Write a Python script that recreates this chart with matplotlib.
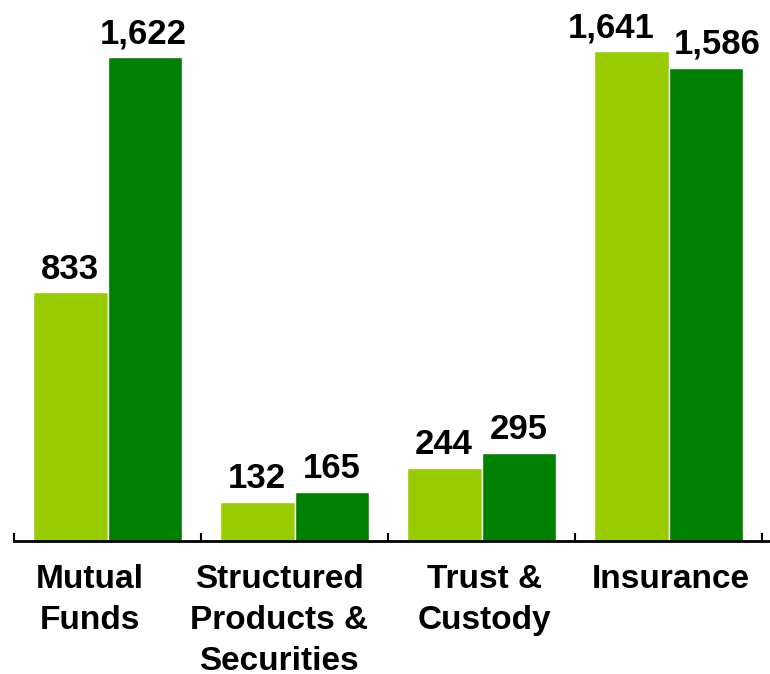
import matplotlib
matplotlib.use("Agg")
import matplotlib.pyplot as plt
import numpy as np

categories = ["Mutual\nFunds", "Structured\nProducts &\nSecurities", "Trust &\nCustody", "Insurance"]
series_a = [833, 132, 244, 1641]
series_b = [1622, 165, 295, 1586]
labels_a = ["833", "132", "244", "1,641"]
labels_b = ["1,622", "165", "295", "1,586"]

light = "#99CC00"
dark = "#008000"

plt.rcParams['font.family'] = ['Liberation Sans', 'DejaVu Sans']

fig = plt.figure(figsize=(7.7, 6.74), dpi=100)
ax = fig.add_axes([14/770, (674-541)/674, 756/770, 537/674])

x = np.arange(len(categories))
w = 0.4
ba = ax.bar(x - w, series_a, width=w, align='edge', color=light, edgecolor='white', linewidth=1.0)
bb = ax.bar(x, series_b, width=w, align='edge', color=dark, edgecolor='white', linewidth=1.0)

# horizontal nudges (points) for value labels
nudge_a = [0, 0, 0, -14]
nudge_b = [-1, 0, 0, 8]
for rect, lab, dx in zip(ba, labels_a, nudge_a):
    ax.annotate(lab, (rect.get_x() + rect.get_width()/2, rect.get_height()),
                xytext=(dx, 5), textcoords='offset points', ha='center', va='bottom',
                fontsize=25, fontweight='bold')
for rect, lab, dx in zip(bb, labels_b, nudge_b):
    ax.annotate(lab, (rect.get_x() + rect.get_width()/2, rect.get_height()),
                xytext=(dx, 5), textcoords='offset points', ha='center', va='bottom',
                fontsize=25, fontweight='bold')

ax.set_xlim(-0.5, 3.5 + 8/187)
ax.set_ylim(0, 1800)
for s in ['top', 'right', 'left']:
    ax.spines[s].set_visible(False)
ax.spines['bottom'].set_linewidth(2)
ax.set_yticks([])
ax.set_xticks([-0.5, 0.5, 1.5, 2.5, 3.5])
ax.set_xticklabels([])
ax.tick_params(axis='x', direction='in', length=6, width=1.5)

label_offsets = [-0.095, -0.083, 0.016, 0.013]
for xi, cat, off in zip(x, categories, label_offsets):
    ax.text(xi + off, -0.042, cat, transform=ax.get_xaxis_transform(), ha='center', va='top',
            fontsize=24, fontweight='bold', linespacing=1.43)

fig.savefig("out.png", dpi=100)
